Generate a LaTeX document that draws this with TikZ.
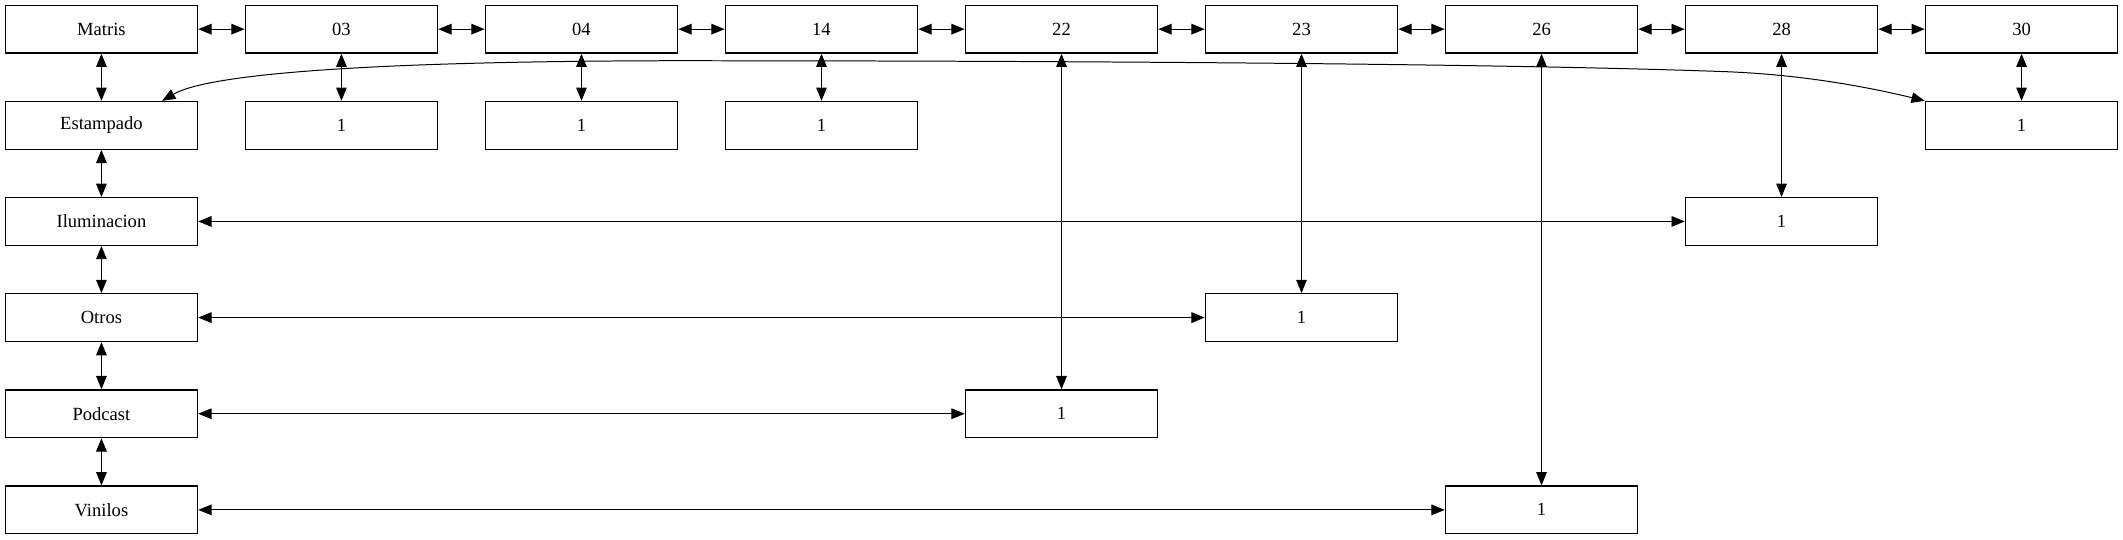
\documentclass[tikz,border=0pt]{standalone}
\usepackage{fontspec}
\setmainfont{Liberation Serif}
\usetikzlibrary{arrows.meta}

\begin{document}
\begin{tikzpicture}[x=1pt, y=1pt,
		box/.style={rectangle, draw, line width=1pt, minimum width=145pt, minimum height=36pt, inner sep=0pt, font=\fontsize{14}{16}\selectfont},
		link/.style={{Triangle[length=10pt,width=8pt]}-{Triangle[length=10pt,width=8pt]}, line width=0.75pt}]
			\useasboundingbox (0,0) rectangle (1601,-406.8);
			
			% Top row
			\foreach \i/\name in {0/Matris, 1/03, 2/04, 3/14, 4/22, 5/23, 6/26, 7/28, 8/30} {
				\node[box] (top\i) at (76.5+181*\i, -22) {\name};
			}
			
			% Left column
			\foreach \j/\name in {1/Estampado, 2/Iluminacion, 3/Otros, 4/Podcast, 5/Vinilos} {
				\node[box] (left\j) at (76.5, -22-72.5*\j) {\name};
			}
			
			% Counts
			\foreach \i/\j in {1/1, 2/1, 3/1, 8/1, 7/2, 5/3, 4/4, 6/5} {
				\node[box] (one\i) at (76.5+181*\i, -22-72.5*\j) {1};
			}
			
			% Connections
			\foreach \i/\k in {0/1, 1/2, 2/3, 3/4, 4/5, 5/6, 6/7, 7/8} {
				\draw[link] (top\i) -- (top\k);
			}
			\draw[link] (top0) -- (left1);
			\foreach \j/\k in {1/2, 2/3, 3/4, 4/5} {
				\draw[link] (left\j) -- (left\k);
			}
			\foreach \i in {1, ..., 8} {
				\draw[link] (top\i) -- (one\i);
			}
			\foreach \j/\i in {2/7, 3/5, 4/4, 5/6} {
				\draw[link] (left\j) -- (one\i);
			}
			\draw[link] (left1.22) .. controls (155,-57) and (260,-46.5) .. (500,-45.8)
				.. controls (850,-45.8) and (1150,-48.5) .. (1300,-54)
				.. controls (1360,-56.2) and (1410,-66) .. (one8.north west);
		\end{tikzpicture}
\end{document}
